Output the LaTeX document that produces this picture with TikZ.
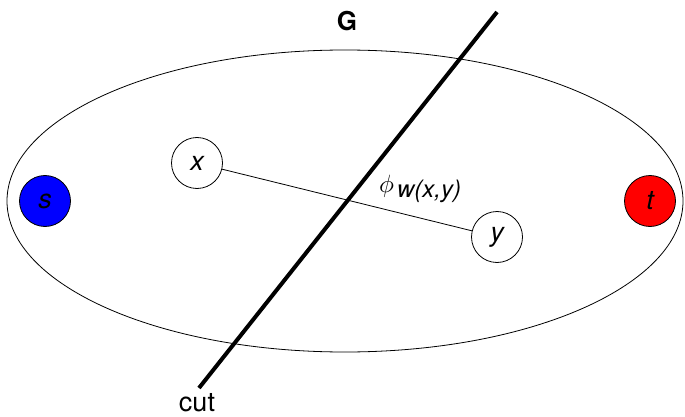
\documentclass[tikz,border=0pt]{standalone}
\usepackage{graphicx}
\usepackage{fontspec}
\setmainfont{TeX Gyre Heros}
\setsansfont{TeX Gyre Heros}
\begin{document}
\begin{tikzpicture}[x=1pt,y=-1pt,
  vert/.style={circle,draw,line width=0.8pt,minimum size=51pt,inner sep=0pt,font=\fontsize{27}{29}\selectfont\itshape},
  lbl/.style={font=\fontsize{27}{29}\selectfont}]
\useasboundingbox (0,0) rectangle (685,417);
\draw[line width=0.8pt] (345,201) ellipse [x radius=338, y radius=151];
\node[vert,fill=blue] (s) at (45,201) {s};
\node[vert,fill=red] (t) at (650,201) {t};
\node[vert] (x) at (197,163) {x};
\node[vert] (y) at (497,237) {y};
\draw[line width=0.8pt] (x) -- (y);
\coordinate (c1) at (497,12);
\coordinate (c2) at (199,388);
\draw[line width=4pt] (c1) -- (c2);
\node[lbl,inner sep=0pt,anchor=base] (cutl) at (197,411) {cut};
\node[font=\fontsize{26}{28}\selectfont\bfseries] (G) at (347,21) {G};
\node[inner sep=0pt,anchor=base west] (phi) at (379,192) {\scalebox{2.5}{$\phi$}\hspace{3pt}\raisebox{-5pt}{\fontsize{24}{26}\selectfont\itshape w(x,y)}};
\end{tikzpicture}
\end{document}
